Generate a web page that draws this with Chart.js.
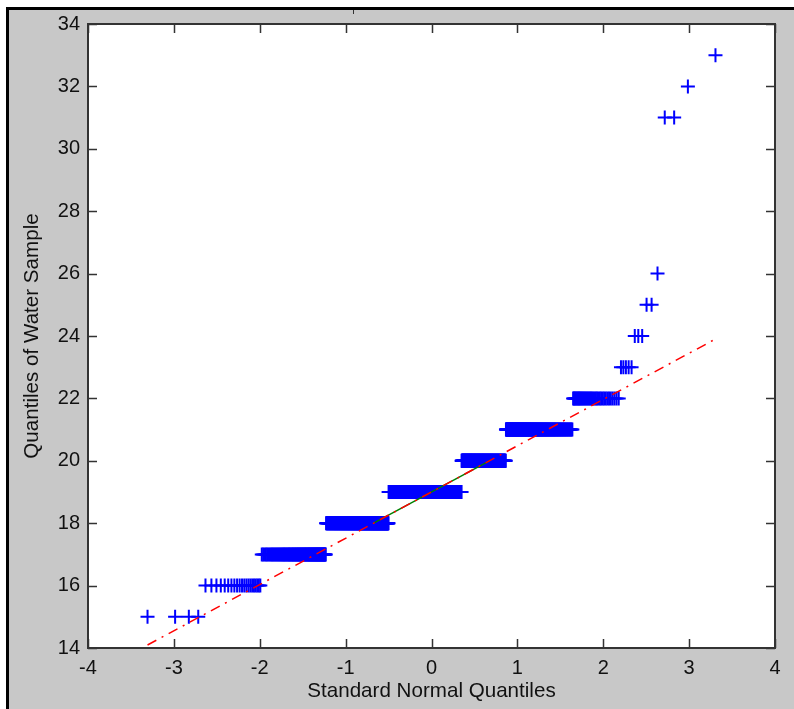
<!DOCTYPE html>
<html>
<head>
<meta charset="utf-8">
<script src="https://cdn.jsdelivr.net/npm/chart.js@4.4.1/dist/chart.umd.min.js"></script>
<style>
    body { margin: 0; background: #fff; width: 794px; height: 709px; overflow: hidden; }
    #frame {
        position: absolute; left: 6px; top: 7px; right: 0; bottom: 0;
        background: #c8c8c8;
        border-left: 3px solid #000; border-top: 3px solid #000;
    }
    #mark { position: absolute; left: 353px; top: 10px; width: 1px; height: 4px; background: #333; }
    #qq { position: absolute; left: 0; top: 0; }
</style>
</head>
<body>
<div id="frame"></div>
<div id="mark"></div>
<canvas id="qq" width="794" height="709"></canvas>
<script>

// water sample readings (sorted values and how many times each occurs)
const waterValues = [15, 16, 17, 18, 19, 20, 21, 22, 23, 24, 25, 26, 31, 32, 33]
const waterCounts = [4, 21, 91, 211, 348, 180, 152, 38, 5, 3, 2, 1, 2, 1, 1]

const xTicks = [-4, -3, -2, -1, 0, 1, 2, 3, 4]
const yTicks = [14, 16, 18, 20, 22, 24, 26, 28, 30, 32, 34]

// inverse standard normal cdf (Acklam)
function norminv(p) {
    var a = [-3.969683028665376e+01, 2.209460984245205e+02, -2.759285104469687e+02, 1.383577518672690e+02, -3.066479806614716e+01, 2.506628277459239e+00]
    var b = [-5.447609879822406e+01, 1.615858368580409e+02, -1.556989798598866e+02, 6.680131188771972e+01, -1.328068155288572e+01]
    var c = [-7.784894002430293e-03, -3.223964580411365e-01, -2.400758277161838e+00, -2.549732539343734e+00, 4.374664141464968e+00, 2.938163982698783e+00]
    var d = [7.784695709041462e-03, 3.224671290700398e-01, 2.445134137142996e+00, 3.754408661907416e+00]
    var pl = 0.02425, q, r
    if (p < pl) {
        q = Math.sqrt(-2 * Math.log(p))
        return (((((c[0]*q+c[1])*q+c[2])*q+c[3])*q+c[4])*q+c[5]) / ((((d[0]*q+d[1])*q+d[2])*q+d[3])*q+1)
    }
    if (p > 1 - pl) {
        q = Math.sqrt(-2 * Math.log(1 - p))
        return -(((((c[0]*q+c[1])*q+c[2])*q+c[3])*q+c[4])*q+c[5]) / ((((d[0]*q+d[1])*q+d[2])*q+d[3])*q+1)
    }
    q = p - 0.5
    r = q * q
    return (((((a[0]*r+a[1])*r+a[2])*r+a[3])*r+a[4])*r+a[5])*q / (((((b[0]*r+b[1])*r+b[2])*r+b[3])*r+b[4])*r+1)
}

// sorted sample
var sample = []
waterValues.forEach(function (v, i) {
    for (var k = 0; k < waterCounts[i]; k++) sample.push(v)
})
var n = sample.length

var qqPoints = sample.map(function (v, i) {
    return { x: norminv((i + 0.5) / n), y: v }
})

// reference line through the first and third quartiles
function prctile(p) {
    var r = p * n + 0.5
    var lo = Math.max(1, Math.floor(r)), hi = Math.min(n, lo + 1)
    return sample[lo - 1] + (r - lo) * (sample[hi - 1] - sample[lo - 1])
}
var q1x = norminv(0.25), q3x = norminv(0.75)
var q1y = prctile(0.25), q3y = prctile(0.75)
var slope = (q3y - q1y) / (q3x - q1x)
var icpt = q1y - slope * q1x
var xmin = qqPoints[0].x, xmax = qqPoints[n - 1].x

const font = { family: "'Liberation Sans', Arial, sans-serif", size: 20 }
const titleFont = { family: "'Liberation Sans', Arial, sans-serif", size: 20.6 }

// white axes box, dark frame and inward tick marks on all four sides
const axesBox = {
    id: 'axesBox',
    beforeDraw: function (chart) {
        var ca = chart.chartArea, ctx = chart.ctx
        ctx.save()
        ctx.fillStyle = '#fff'
        ctx.fillRect(ca.left, ca.top, ca.right - ca.left, ca.bottom - ca.top)
        ctx.restore()
    },
    afterDraw: function (chart) {
        var ca = chart.chartArea, ctx = chart.ctx
        var xs = chart.scales.x, ys = chart.scales.y
        ctx.save()
        ctx.strokeStyle = '#333'
        ctx.lineWidth = 1.5
        ctx.beginPath()
        xTicks.forEach(function (t) {
            var px = Math.round(xs.getPixelForValue(t)) + 0.5
            ctx.moveTo(px, ca.bottom); ctx.lineTo(px, ca.bottom - 9)
            ctx.moveTo(px, ca.top); ctx.lineTo(px, ca.top + 9)
        })
        yTicks.forEach(function (t) {
            var py = Math.round(ys.getPixelForValue(t)) + 0.5
            ctx.moveTo(ca.left, py); ctx.lineTo(ca.left + 9, py)
            ctx.moveTo(ca.right, py); ctx.lineTo(ca.right - 9, py)
        })
        ctx.stroke()
        ctx.lineWidth = 2
        ctx.strokeRect(ca.left, ca.top, ca.right - ca.left, ca.bottom - ca.top)
        ctx.restore()
    }
}

var ctxQ = document.getElementById('qq').getContext('2d')
var qqChart = new Chart(ctxQ, {
    type: 'scatter',
    data: {
        datasets: [{
            label: 'extrapolated',
            type: 'line',
            data: [{ x: xmin, y: icpt + slope * xmin }, { x: xmax, y: icpt + slope * xmax }],
            borderColor: '#ff0000',
            borderWidth: 1.5,
            borderDash: [10, 6, 2, 6],
            pointRadius: 0,
            order: 0
        },
        {
            label: 'quartiles',
            type: 'line',
            data: [{ x: q1x, y: q1y }, { x: q3x, y: q3y }],
            borderColor: '#008000',
            borderWidth: 1.5,
            pointRadius: 0,
            order: 1
        },
        {
            label: 'Water Sample',
            data: qqPoints,
            pointStyle: 'cross',
            pointRadius: 7,
            pointBorderWidth: 2,
            borderColor: '#0000ff',
            backgroundColor: '#0000ff',
            order: 2
        }]
    },
    options: {
        responsive: false,
        animation: false,
        events: [],
        layout: { padding: { left: 0, right: 19, top: 24, bottom: 0 } },
        plugins: { legend: { display: false }, tooltip: { enabled: false } },
        scales: {
            x: {
                type: 'linear', min: -4, max: 4,
                afterFit: function (s) { s.height = 61 },
                afterBuildTicks: function (s) { s.ticks = xTicks.map(function (v) { return { value: v } }) },
                grid: { display: false, drawTicks: false },
                border: { display: false },
                ticks: { color: '#111', font: font, padding: 8 },
                title: { display: true, text: 'Standard Normal Quantiles', color: '#111', font: titleFont, padding: { top: 0, bottom: 5 } }
            },
            y: {
                type: 'linear', min: 14, max: 34,
                afterFit: function (s) { s.width = 88 },
                afterBuildTicks: function (s) { s.ticks = yTicks.map(function (v) { return { value: v } }) },
                grid: { display: false, drawTicks: false },
                border: { display: false },
                ticks: { color: '#111', font: font, padding: 8 },
                title: { display: true, text: 'Quantiles of Water Sample', color: '#111', font: titleFont, padding: { top: 20, bottom: 0 } }
            }
        }
    },
    plugins: [axesBox]
})
</script>
</body>
</html>
